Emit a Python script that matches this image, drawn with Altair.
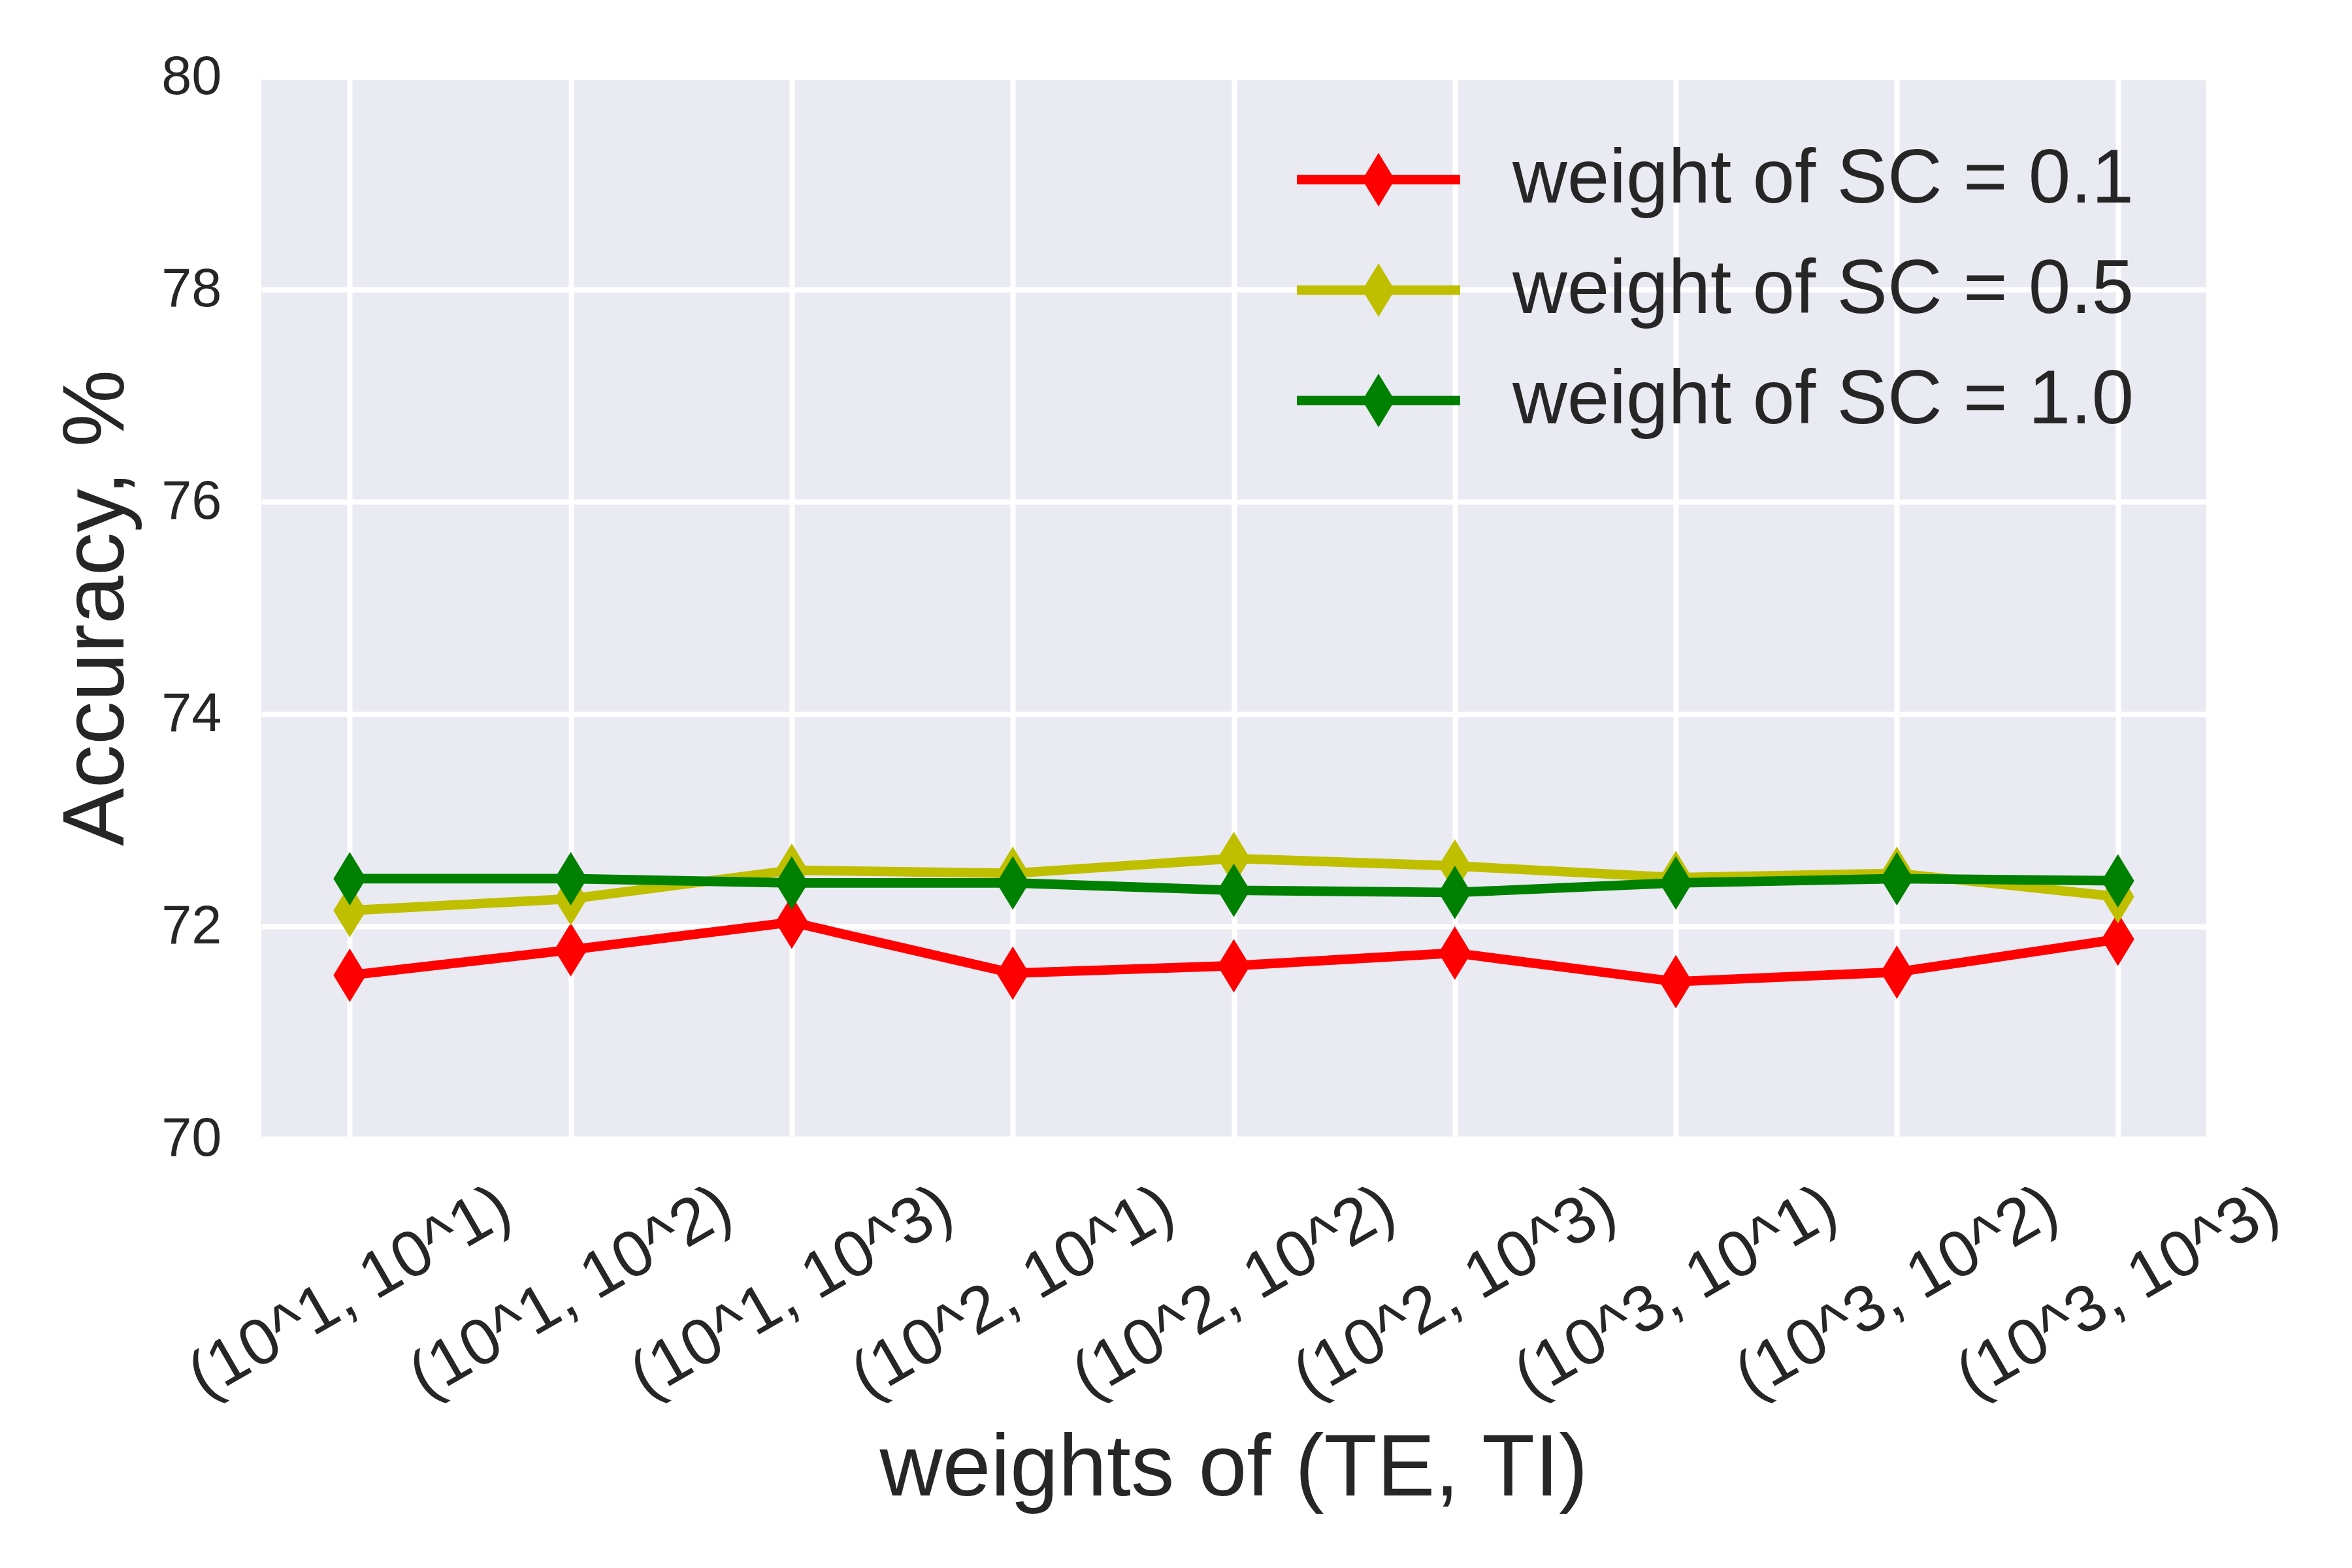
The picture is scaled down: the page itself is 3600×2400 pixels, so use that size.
import altair as alt
import pandas as pd

categories = ["(10^1, 10^1)", "(10^1, 10^2)", "(10^1, 10^3)",
              "(10^2, 10^1)", "(10^2, 10^2)", "(10^2, 10^3)",
              "(10^3, 10^1)", "(10^3, 10^2)", "(10^3, 10^3)"]
series_names = ["weight of SC = 0.1", "weight of SC = 0.5", "weight of SC = 1.0"]
acc_sc01 = [71.54, 71.78, 72.04, 71.56, 71.63, 71.75, 71.48, 71.57, 71.88]
acc_sc05 = [72.15, 72.26, 72.53, 72.50, 72.64, 72.57, 72.46, 72.50, 72.28]
acc_sc10 = [72.45, 72.45, 72.41, 72.41, 72.34, 72.32, 72.41, 72.45, 72.43]
colors = ["#FF0000", "#BFBF00", "#008000"]
y_ticks = [70, 72, 74, 76, 78, 80]

rows = []
for name, vals in zip(series_names, [acc_sc01, acc_sc05, acc_sc10]):
    for c, v in zip(categories, vals):
        rows.append({"cat": c, "series": name, "acc": v})
df = pd.DataFrame(rows)

FONT = "Liberation Sans"
TXT = "#262626"

x_enc = alt.X(
    "cat:N", sort=categories,
    scale=alt.Scale(type="point", padding=0.4),
    axis=alt.Axis(
        title="weights of (TE, TI)", titleFontSize=133, titleFont=FONT,
        titleColor=TXT, titleFontWeight="normal",
        titleX=1488, titleY=545, titleBaseline="alphabetic", titleAlign="center",
        labelAngle=330, labelAlign="center", labelBaseline="middle",
        labelPadding=235, labelFontSize=100, labelFont=FONT, labelColor=TXT,
        labelOverlap=False, labelBound=False, labelFlush=False, labelLimit=5000,
        domain=False, ticks=False, grid=True, gridColor="white", gridWidth=8,
    ),
)
y_enc = alt.Y(
    "acc:Q",
    scale=alt.Scale(domain=[70, 80], nice=False, zero=False),
    axis=alt.Axis(
        title="Accuracy, %", titleFontSize=133, titleFont=FONT, titleColor=TXT,
        titleFontWeight="normal", titleAngle=270, titleX=-212, titleY=812,
        titleBaseline="alphabetic", titleAlign="center",
        values=y_ticks, format="d", labelFontSize=83, labelFont=FONT,
        labelColor=TXT, labelPadding=61, labelAlign="right", labelBaseline="middle",
        domain=False, ticks=False, grid=True, gridColor="white", gridWidth=8,
    ),
)

diamond = "M0,-1L0.61,0L0,1L-0.61,0Z"
legend_symbol = ("M-2.5,-0.146L-0.411,-0.146L0,-0.82L0.411,-0.146L2.5,-0.146"
                 "L2.5,0.146L0.411,0.146L0,0.82L-0.411,0.146L-2.5,0.146Z")

fill_scale = alt.Scale(domain=series_names, range=colors)

legend = alt.Legend(
    title=None, orient="none", legendX=1585, legendY=99, padding=0,
    symbolType=legend_symbol, symbolSize=10000, symbolStrokeWidth=0,
    symbolOffset=67, labelOffset=147, rowPadding=53,
    labelFontSize=116, labelFont=FONT, labelColor=TXT, labelLimit=3000,
    symbolOpacity=1,
)

base = alt.Chart(df)
layers = []
for name, col in zip(series_names, colors):
    sub = base.transform_filter(alt.datum.series == name)
    line = sub.mark_line(color=col, strokeWidth=14.6, strokeCap="round",
                         strokeJoin="round").encode(x=x_enc, y=y_enc)
    pts = sub.mark_point(filled=True, shape=diamond, size=6724, opacity=1,
                         strokeWidth=0).encode(
        x=x_enc, y=y_enc,
        fill=alt.Fill("series:N", scale=fill_scale, legend=legend),
    )
    layers += [line, pts]

chart = alt.layer(*layers).properties(
    width=2977, height=1625,
    autosize=alt.AutoSizeParams(type="none"),
    padding={"left": 392, "top": 110, "right": 215, "bottom": 649},
    background="white",
).configure_view(fill="#EAEAF2", strokeWidth=0)

chart.save("out.html", embed_options={"renderer": "svg", "actions": False})
